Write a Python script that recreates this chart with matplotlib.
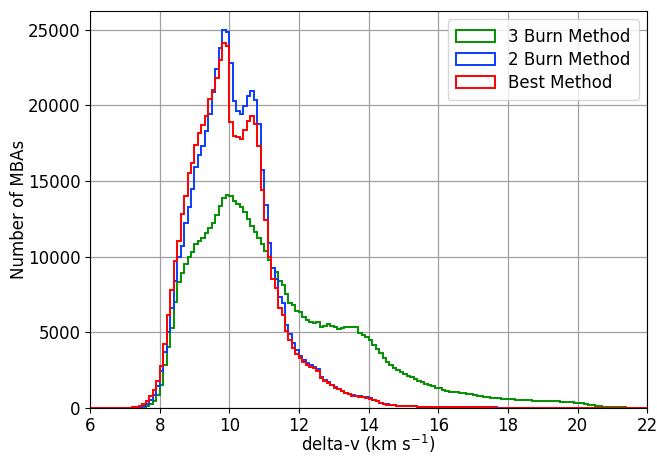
import numpy as np
import matplotlib
matplotlib.use("Agg")
import matplotlib.pyplot as plt

# bin edges: 0.1 km/s wide from 6 to 22
bin_lo, bin_hi, bin_w = 6.0, 22.0, 0.1
edges = np.round(np.arange(bin_lo, bin_hi + bin_w / 2, bin_w), 2)

# counts per bin, first value is the 7.0-7.1 bin
start_v = 7.0

burn3 = [0, 0, 5, 10, 20, 50, 110, 230, 450, 850,
         1500, 2800, 4000, 5300, 7000, 8300, 8900, 9500, 10000, 10300,
         10800, 11050, 11200, 11550, 11900, 12250, 12750, 13350, 13850, 14050,
         14000, 13700, 13500, 13250, 12950, 12500, 12050, 11650, 11250, 10850,
         10350, 9800, 9250, 9000, 8400, 8100, 7500, 6950, 6800, 6400,
         6300, 6000, 5800, 5650, 5600, 5700, 5350, 5420, 5530, 5380,
         5330, 5200, 5300, 5360, 5340, 5360, 5320, 4950, 4780, 4700,
         4450, 4150, 3900, 3600, 3300, 3050, 2850, 2650, 2500, 2350,
         2220, 2100, 2000, 1880, 1770, 1680, 1560, 1480, 1400, 1320,
         1280, 1200, 1130, 1060, 1030, 1050, 980, 950, 930, 890,
         840, 800, 770, 720, 700, 660, 640, 620, 600, 590,
         560, 540, 500, 520, 530, 500, 490, 460, 450, 470,
         450, 440, 450, 440, 420, 400, 390, 370, 350, 340,
         330, 300, 260, 200, 160, 120, 90, 65, 50, 35,
         25, 20, 15, 10, 8, 5, 3, 2, 1, 0]

burn2 = [0, 2, 8, 20, 50, 120, 250, 480, 850, 1400,
         2400, 3700, 5000, 6600, 8400, 10000, 10700, 12200, 13300, 14500,
         15900, 16700, 17300, 18300, 19400, 20900, 22400, 23800, 25000, 24850,
         22800, 20300, 19600, 19450, 19950, 20600, 20950, 20350, 18750, 15700,
         13400, 10900, 9250, 8500, 7300, 6950, 5500, 4900, 4300, 3800,
         3450, 3150, 2950, 2800, 2700, 2550, 2050, 1850, 1680, 1520,
         1370, 1250, 1130, 1000, 910, 820, 770, 740, 720, 690,
         620, 520, 430, 340, 260, 210, 180, 160, 140, 120,
         110, 100, 90, 80, 70, 65, 60, 55, 50, 45,
         40, 38, 35, 32, 30, 28, 25, 22, 20, 18,
         16, 15, 14, 13, 12, 11, 10, 9, 8, 7,
         6, 6, 5, 5, 4, 4, 3, 3, 3, 2,
         2, 2, 2, 1, 1, 1, 1, 1, 1, 1]

best = [2, 5, 15, 35, 100, 250, 450, 750, 1150, 1750,
        2750, 4200, 6150, 7800, 9700, 11000, 12800, 14000, 15500, 16200,
        17400, 18200, 18700, 19300, 20400, 21000, 21800, 23000, 24100, 23900,
        18900, 18000, 17900, 17800, 18400, 19000, 19300, 18800, 17300, 14400,
        12400, 10000, 8500, 7900, 6600, 6100, 5100, 4500, 3950, 3550,
        3300, 3000, 2850, 2720, 2600, 2400, 1950, 1750, 1620, 1470,
        1320, 1210, 1100, 970, 890, 800, 760, 730, 710, 670,
        600, 500, 410, 320, 240, 200, 170, 150, 130, 115,
        100, 92, 85, 78, 70, 64, 58, 53, 48, 44,
        40, 37, 34, 31, 28, 26, 24, 21, 19, 17,
        15, 14, 13, 12, 11, 10, 9, 8, 7, 6,
        6, 5, 5, 4, 4, 3, 3, 3, 2, 2,
        2, 2, 1, 1, 1, 1, 1, 1, 1, 1]

series = [("3 Burn Method", burn3, "#009000"),
          ("2 Burn Method", burn2, "#0a3cff"),
          ("Best Method", best, "#ff0000")]

n_bins = len(edges) - 1
offset = int(round((start_v - bin_lo) / bin_w))
centers = (edges[:-1] + edges[1:]) / 2

fig = plt.figure(figsize=(6.57, 4.57), dpi=100)
ax = fig.add_axes([0.137, 0.108, 0.848, 0.868])

for label, vals, col in series:
    w = np.zeros(n_bins)
    w[offset:offset + len(vals)] = vals
    ax.hist(centers, bins=edges, weights=w, histtype="step",
            color=col, linewidth=1.4, label=label)

ax.set_xlim(6, 22)
ax.set_xticks(np.arange(6, 23, 2))
ax.set_yticks(np.arange(0, 25001, 5000))
ax.tick_params(labelsize=12)
ax.tick_params(axis="x", pad=3)
ax.set_xlabel(r"delta-v (km s$^{-1}$)", fontsize=12, labelpad=-1)
ax.set_ylabel("Number of MBAs", fontsize=12, labelpad=0)
ax.grid(True, color="#a0a0a0", linewidth=0.9)
ax.set_axisbelow(True)
ax.legend(loc="upper right", fontsize=12, labelspacing=0.3,
          handlelength=2.3, borderpad=0.5)

fig.savefig("out.png", dpi=100)
